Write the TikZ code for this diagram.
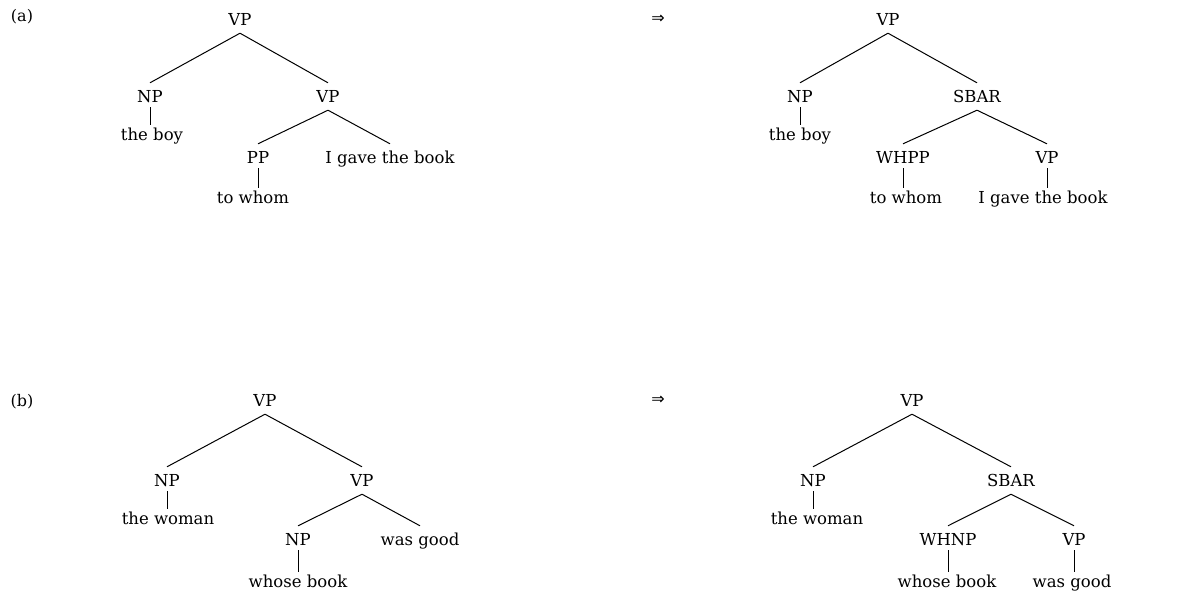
\documentclass[tikz,border=0pt]{standalone}
\usepackage{fontspec}
\usetikzlibrary{calc}
\setmainfont{DejaVu Serif}
\newfontfamily\symfont{DejaVu Sans}
\begin{document}
\begin{tikzpicture}[x=1pt,y=-1pt,
  lbl/.style={anchor=base,inner xsep=0pt,inner ysep=0pt,text height=19pt,text depth=8pt,font=\fontsize{16.5}{19}\selectfont},
  tag/.style={anchor=base,inner sep=0pt,font=\fontsize{16}{18}\selectfont},
  arr/.style={anchor=center,inner sep=0pt,font=\symfont\fontsize{16}{18}\selectfont},
  edge/.style={line width=1pt,black},
  stem/.style={line width=1pt,black}]
\useasboundingbox (0,0) rectangle (1178,592);
% ---------- (a) left
\node[tag] (taga) at (22,21) {(a)};
\node[lbl] (a1) at (240,25) {VP};
\node[lbl] (a2) at (150,102) {NP};
\node[lbl] (a3) at (328,102) {VP};
\node[lbl] (a4) at (152,140) {the boy};
\node[lbl] (a5) at (258,163) {PP};
\node[lbl] (a6) at (390,163) {I gave the book};
\node[lbl] (a7) at (253,203) {to whom};
\draw[edge] (a1.south) -- (a2.north);
\draw[edge] (a1.south) -- (a3.north);
\draw[stem] ($(a2.south)+(0,-3)$) -- ($(a2.south |- a4.north)+(0,4)$);
\draw[edge] (a3.south) -- (a5.north);
\draw[edge] (a3.south) -- (a6.north);
\draw[stem] ($(a5.south)+(0,-3)$) -- ($(a5.south |- a7.north)+(0,4)$);
% ---------- (a) right
\node[arr] (arra) at (658,19) {⇒};
\node[lbl] (b1) at (888,25) {VP};
\node[lbl] (b2) at (800,102) {NP};
\node[lbl] (b3) at (977,102) {SBAR};
\node[lbl] (b4) at (800,140) {the boy};
\node[lbl] (b5) at (903,163) {WHPP};
\node[lbl] (b6) at (1047,163) {VP};
\node[lbl] (b7) at (906,203) {to whom};
\node[lbl] (b8) at (1043,203) {I gave the book};
\draw[edge] (b1.south) -- (b2.north);
\draw[edge] (b1.south) -- (b3.north);
\draw[stem] ($(b2.south)+(0,-3)$) -- ($(b2.south |- b4.north)+(0,4)$);
\draw[edge] (b3.south) -- (b5.north);
\draw[edge] (b3.south) -- (b6.north);
\draw[stem] ($(b5.south)+(0,-3)$) -- ($(b5.south |- b7.north)+(0,4)$);
\draw[stem] ($(b6.south)+(0,-3)$) -- ($(b6.south |- b8.north)+(0,4)$);
% ---------- (b) left
\node[tag] (tagb) at (22,406) {(b)};
\node[lbl] (c1) at (265,406) {VP};
\node[lbl] (c2) at (167,486) {NP};
\node[lbl] (c3) at (362,486) {VP};
\node[lbl] (c4) at (168,524) {the woman};
\node[lbl] (c5) at (298,545) {NP};
\node[lbl] (c6) at (420,545) {was good};
\node[lbl] (c7) at (298,587) {whose book};
\draw[edge] (c1.south) -- (c2.north);
\draw[edge] (c1.south) -- (c3.north);
\draw[stem] ($(c2.south)+(0,-3)$) -- ($(c2.south |- c4.north)+(0,4)$);
\draw[edge] (c3.south) -- (c5.north);
\draw[edge] (c3.south) -- (c6.north);
\draw[stem] ($(c5.south)+(0,-3)$) -- ($(c5.south |- c7.north)+(0,4)$);
% ---------- (b) right
\node[arr] (arrb) at (658,400) {⇒};
\node[lbl] (d1) at (912,406) {VP};
\node[lbl] (d2) at (813,486) {NP};
\node[lbl] (d3) at (1011,486) {SBAR};
\node[lbl] (d4) at (817,524) {the woman};
\node[lbl] (d5) at (948,545) {WHNP};
\node[lbl] (d6) at (1074,545) {VP};
\node[lbl] (d7) at (947,587) {whose book};
\node[lbl] (d8) at (1072,587) {was good};
\draw[edge] (d1.south) -- (d2.north);
\draw[edge] (d1.south) -- (d3.north);
\draw[stem] ($(d2.south)+(0,-3)$) -- ($(d2.south |- d4.north)+(0,4)$);
\draw[edge] (d3.south) -- (d5.north);
\draw[edge] (d3.south) -- (d6.north);
\draw[stem] ($(d5.south)+(0,-3)$) -- ($(d5.south |- d7.north)+(0,4)$);
\draw[stem] ($(d6.south)+(0,-3)$) -- ($(d6.south |- d8.north)+(0,4)$);
\end{tikzpicture}
\end{document}
